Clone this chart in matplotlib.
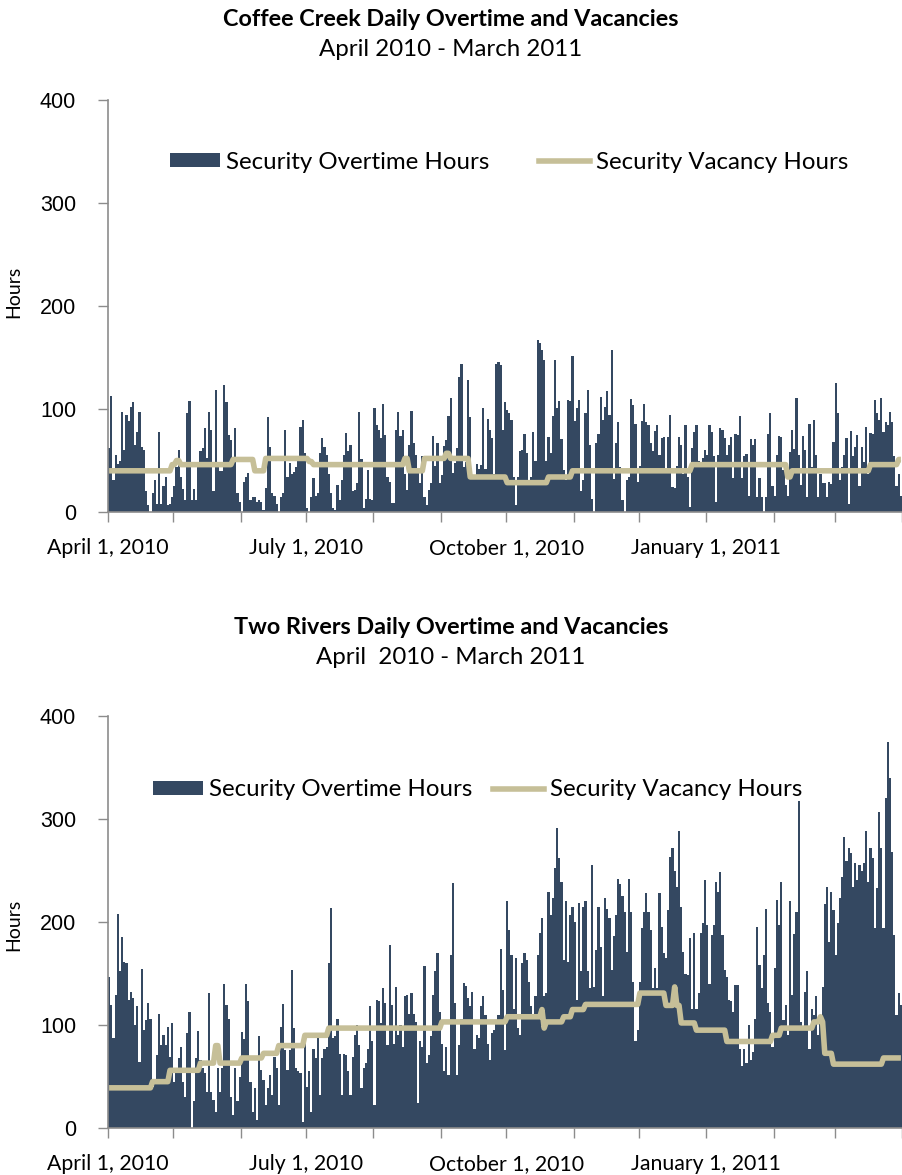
import numpy as np
import matplotlib
matplotlib.use("Agg")
import matplotlib.pyplot as plt
from matplotlib.patches import Patch
from matplotlib.lines import Line2D

# ---------------- data: Coffee Creek (daily overtime hours, Apr 2010 - Mar 2011)
cc_apr = [62,113,31,55,47,50,97,60,94,88,102,107,65,78,97,63,60,20,7,0,18,31,8,78,8,25,34,7,8,15]
cc_may = [25,44,60,34,22,12,96,108,12,22,12,44,59,62,82,52,97,80,20,118,44,40,40,123,107,75,70,53,82,18,10]
cc_jun = [0,29,34,38,12,15,15,10,12,10,2,23,92,63,18,16,8,0,15,18,80,34,48,37,39,44,50,83,89,57]
cc_jul = [4,0,15,33,16,18,57,72,63,55,37,18,4,2,26,12,31,55,77,59,65,20,21,28,97,51,4,13,41,13,12]
cc_aug = [101,84,80,72,105,75,34,29,9,9,80,97,74,80,37,21,65,98,67,55,42,28,54,15,7,21,28,74,45,67,28]
cc_sep = [36,64,70,93,111,38,48,62,131,144,44,49,128,92,36,34,47,42,46,101,42,90,80,72,37,144,146,143,80,107]
cc_oct = [99,96,89,34,7,34,59,60,76,57,31,34,78,50,167,164,157,148,50,73,57,93,148,101,108,71,41,31,109,108,151]
cc_nov = [88,101,109,20,31,96,118,65,13,0,67,76,112,89,102,117,94,157,32,67,87,44,12,0,31,34,110,104,85,29]
cc_dec = [45,88,105,87,84,67,59,79,84,55,72,73,42,73,94,24,23,45,73,65,37,84,34,5,62,78,84,50,47,52,60]
cc_jan = [55,84,78,54,10,55,82,80,72,55,65,73,33,76,75,93,33,54,56,16,71,65,71,15,33,15,0,15,76,96,25]
cc_feb = [16,55,74,73,41,26,16,58,80,61,111,55,26,74,60,15,85,44,89,55,15,37,28,28,15,29,27,68]
cc_mar = [125,96,31,44,55,72,8,79,54,63,75,25,63,49,83,37,77,76,109,96,89,111,78,87,84,97,87,54,25,37,16]

# vacancy hours: day index where the level changes, and the new level
cc_vac_days = [0,29,31,33,57,67,72,92,94,136,138,145,155,157,166,183,202,213,268,312,314,350,363]
cc_vac_vals = [40,46,50,46,51,40,52,49,46,52,40,52,57,52,34,28.5,34,40,46,34,40,46,51]

# ---------------- data: Two Rivers
tr_apr = [147,119,87,129,208,152,185,161,160,124,132,126,100,118,64,154,95,105,121,106,40,45,71,111,81,90,81,98,69,102]
tr_may = [45,56,68,79,45,30,92,113,0,26,68,94,66,58,53,35,131,35,27,16,58,35,58,140,119,106,30,13,58,26,50]
tr_jun = [93,86,140,123,45,16,39,8,89,56,47,22,39,51,32,69,58,22,98,120,76,56,76,153,97,58,55,53,6,84]
tr_jul = [40,55,16,77,68,87,32,68,77,79,160,214,87,89,106,72,32,72,71,55,32,69,90,100,81,39,58,63,77,118,84]
tr_aug = [22,124,123,102,136,121,81,178,119,82,137,90,100,79,128,129,111,131,111,103,24,84,79,157,63,71,89,129,152,170,113]
tr_sep = [82,55,79,51,168,238,121,51,81,106,141,138,126,118,132,77,90,87,118,128,110,82,66,92,95,103,110,174,134,76]
tr_oct = [220,192,168,116,165,97,90,160,170,163,142,118,110,128,168,189,204,128,131,229,207,223,252,291,262,239,163,220,161,207,215]
tr_nov = [200,124,218,152,215,220,152,136,255,137,173,215,176,128,223,213,204,153,186,207,242,237,225,210,171,242,210,142,84,95]
tr_dec = [142,194,210,228,210,192,136,155,136,228,195,170,165,212,263,272,250,234,288,215,171,150,149,184,116,189,116,131,189,199,241]
tr_jan = [197,140,187,197,239,229,249,187,153,147,124,123,113,139,139,77,60,77,63,100,66,74,106,195,158,136,168,213,121,113,79]
tr_feb = [155,221,197,239,105,119,90,220,129,188,210,317,103,97,132,152,77,116,110,128,90,108,137,217,234,181,229,212]
tr_mar = [168,199,223,244,283,259,272,267,234,257,241,255,250,257,288,239,272,262,194,233,307,272,194,320,375,340,268,187,110,131,119]

tr_vac_days = [0,20,28,42,49,51,61,71,78,90,101,153,183,199,200,201,209,213,219,244,256,260,261,263,270,284,305,309,324,327,328,329,333,356]
tr_vac_vals = [39,45,56,63,80,63,68,72.5,80,90,97,103,108,115,97,103,108,115,120,131,119,137,119,102,95,84,90,97,103,108,103,72.5,62,68]

month_lengths = [30,31,30,31,31,30,31,30,31,31,28,31]
tick_labels = {0: "April 1, 2010", 91: "July 1, 2010", 183: "October 1, 2010", 275: "January 1, 2011"}

titles = [("Coffee Creek Daily Overtime and Vacancies", "April 2010 - March 2011"),
          ("Two Rivers Daily Overtime and Vacancies", "April  2010 - March 2011")]
legend_labels = ["Security Overtime Hours", "Security Vacancy Hours"]

BAR = "#344861"
LINE = "#c6bf98"
SPINE = "#8c8c8c"
FONT = ["Lato", "DejaVu Sans"]

plt.rcParams["font.family"] = FONT

W, H = 902, 1175
fig = plt.figure(figsize=(W / 100, H / 100), dpi=100)


def fx(px):
    return px / W


def fy(py):
    return 1 - py / H


def step_series(days, vals, n):
    idx = np.searchsorted(np.array(days), np.arange(n), side="right") - 1
    return np.array(vals, dtype=float)[idx]


def panel(top_px, bottom_px, months, vac_days, vac_vals, title, sub, title_y, leg_left, leg_y, colsp, ylab_y):
    ax = fig.add_axes([fx(108), fy(bottom_px), fx(902) - fx(108), fy(top_px) - fy(bottom_px)])
    ot = np.concatenate([np.array(m, dtype=float) for m in months])
    n = len(ot)
    x = np.arange(n) + 0.5
    ax.bar(x, ot, width=1.0, color=BAR, linewidth=0, label=legend_labels[0], zorder=2)
    vac = step_series(vac_days, vac_vals, n)
    ax.plot(x, vac, color=LINE, lw=4.0, solid_joinstyle="round", solid_capstyle="butt",
            label=legend_labels[1], zorder=3)
    ax.set_xlim(0, n)
    ax.set_ylim(0, 400)
    ax.set_yticks([0, 100, 200, 300, 400])
    ax.tick_params(axis="y", direction="out", length=7, width=1, color=SPINE, pad=16,
                   labelsize=15.5, labelfontfamily="Liberation Sans")
    starts = np.concatenate([[0], np.cumsum(month_lengths)])
    ax.set_xticks(starts)
    ax.set_xticklabels([tick_labels.get(int(s), "") for s in starts])
    ax.tick_params(axis="x", direction="out", length=7, width=1, color=SPINE, pad=12, labelsize=15.3)
    for s in ["top", "right"]:
        ax.spines[s].set_visible(False)
    for s in ["left", "bottom"]:
        ax.spines[s].set_color(SPINE)
        ax.spines[s].set_linewidth(1.2)
    ax.set_ylabel("Hours", fontsize=14)
    ax.yaxis.set_label_coords(-0.108, ylab_y)
    ax.legend(handles=[Patch(facecolor=BAR, edgecolor="none", label=legend_labels[0]),
                       Line2D([], [], color=LINE, lw=4.0, label=legend_labels[1])],
              loc="center left", bbox_to_anchor=(fx(leg_left), fy(leg_y)), bbox_transform=fig.transFigure,
              ncol=2, frameon=False, fontsize=17.3, handlelength=2.1, handleheight=0.55,
              handletextpad=0.25, columnspacing=colsp, borderpad=0, borderaxespad=0)
    fig.text(0.5, fy(title_y), title, ha="center", va="center", fontsize=16.8, fontweight="bold")
    fig.text(0.5, fy(title_y + 29), sub, ha="center", va="center", fontsize=17.3)
    return ax


panel(100, 512, [cc_apr, cc_may, cc_jun, cc_jul, cc_aug, cc_sep, cc_oct, cc_nov, cc_dec, cc_jan, cc_feb, cc_mar],
      cc_vac_days, cc_vac_vals, titles[0][0], titles[0][1], 20, 170, 162, 2.05, 0.534)
panel(716, 1128, [tr_apr, tr_may, tr_jun, tr_jul, tr_aug, tr_sep, tr_oct, tr_nov, tr_dec, tr_jan, tr_feb, tr_mar],
      tr_vac_days, tr_vac_vals, titles[1][0], titles[1][1], 628, 153, 790, 0.85, 0.493)

fig.savefig("out.png", dpi=100)
